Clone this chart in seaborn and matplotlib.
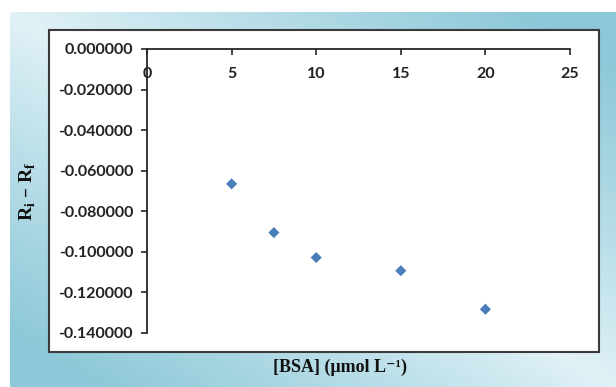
import numpy as np
import pandas as pd
import matplotlib
matplotlib.use("Agg")
import matplotlib.pyplot as plt
from matplotlib.patches import Rectangle
from matplotlib.colors import LinearSegmentedColormap
from matplotlib.ticker import FormatStrFormatter
import seaborn as sns

# ---- data ----
bsa_conc = [5, 7.5, 10, 15, 20]
ri_minus_rf = [-0.0665, -0.0905, -0.1028, -0.1093, -0.1283]
x_ticks = [0, 5, 10, 15, 20, 25]
y_ticks = [0.0, -0.02, -0.04, -0.06, -0.08, -0.10, -0.12, -0.14]
x_label = "[BSA] (μmol L⁻¹)"
y_label = "R$_{\\mathregular{i}}$ – R$_{\\mathregular{f}}$"

sns.set_theme(style="white")
plt.rcParams['axes.unicode_minus'] = False
plt.rcParams['font.family'] = ['Lato', 'DejaVu Sans']

W, H = 616, 387
fig = plt.figure(figsize=(W / 100, H / 100), dpi=100)
fig.patch.set_facecolor('white')

# ---- background gradient panel ----
bg = fig.add_axes([10 / W, 0, (W - 10) / W, (H - 12) / H], zorder=0)
gx = np.linspace(0, 1, 300)
gy = np.linspace(0, 1, 200)
GX, GY = np.meshgrid(gx, gy)
dark = np.clip(np.abs(GX - GY) * 1.15, 0, 1) ** 0.9
cmap = LinearSegmentedColormap.from_list("bgc", ["#e2f2f7", "#8cc8d8"])
bg.imshow(dark, cmap=cmap, aspect='auto', extent=[0, 1, 1, 0], interpolation='bilinear')
bg.set_axis_off()

# ---- white chart box ----
box = Rectangle((49 / W, 1 - 352 / H), (599 - 49) / W, (352 - 30) / H,
                transform=fig.transFigure, facecolor='white', edgecolor='#3a3a3a',
                linewidth=1.5, zorder=1)
fig.patches.append(box)

# ---- data axes ----
left, right = 147 / W, 570 / W
top, bottom = 1 - 49 / H, 1 - 333 / H
ax = fig.add_axes([left, bottom, right - left, top - bottom], zorder=2)
ax.patch.set_alpha(0)

df = pd.DataFrame({"BSA": bsa_conc, "R": ri_minus_rf})
sns.scatterplot(data=df, x="BSA", y="R", ax=ax, marker='D', s=32,
                color='#4a7ebb', edgecolor='none', linewidth=0, clip_on=False)

ax.set_xlim(0, 25)
ax.set_ylim(-0.14, 0)
ax.set_xticks(x_ticks)
ax.set_yticks(y_ticks)
ax.yaxis.set_major_formatter(FormatStrFormatter('%.6f'))

for s in ['top', 'right']:
    ax.spines[s].set_visible(False)
ax.spines['bottom'].set_position(('data', 0))
for s in ['left', 'bottom']:
    ax.spines[s].set_color('#262626')
    ax.spines[s].set_linewidth(1.3)

ax.tick_params(axis='both', which='major', direction='out', length=4, width=1.2,
               color='#262626', labelcolor='#222222', labelsize=11.5)
ax.tick_params(axis='x', pad=9, bottom=True)
ax.tick_params(axis='y', pad=6, left=True)
for lab in ax.get_xticklabels() + ax.get_yticklabels():
    lab.set_fontweight('bold')

ax.set_xlabel(x_label, fontfamily=['Liberation Serif', 'DejaVu Serif'], fontweight='bold',
              fontsize=13, color='#111111')
ax.set_ylabel(y_label, fontfamily='Liberation Serif', fontweight='bold', fontsize=14,
              color='#111111', va='center')
ax.xaxis.set_label_coords((340 - 147) / 423, (333 - 367) / 284)
ax.xaxis.label.set_va('center')
ax.yaxis.set_label_coords((28 - 147) / 423, 0.5)

fig.savefig("out.png", dpi=100)
